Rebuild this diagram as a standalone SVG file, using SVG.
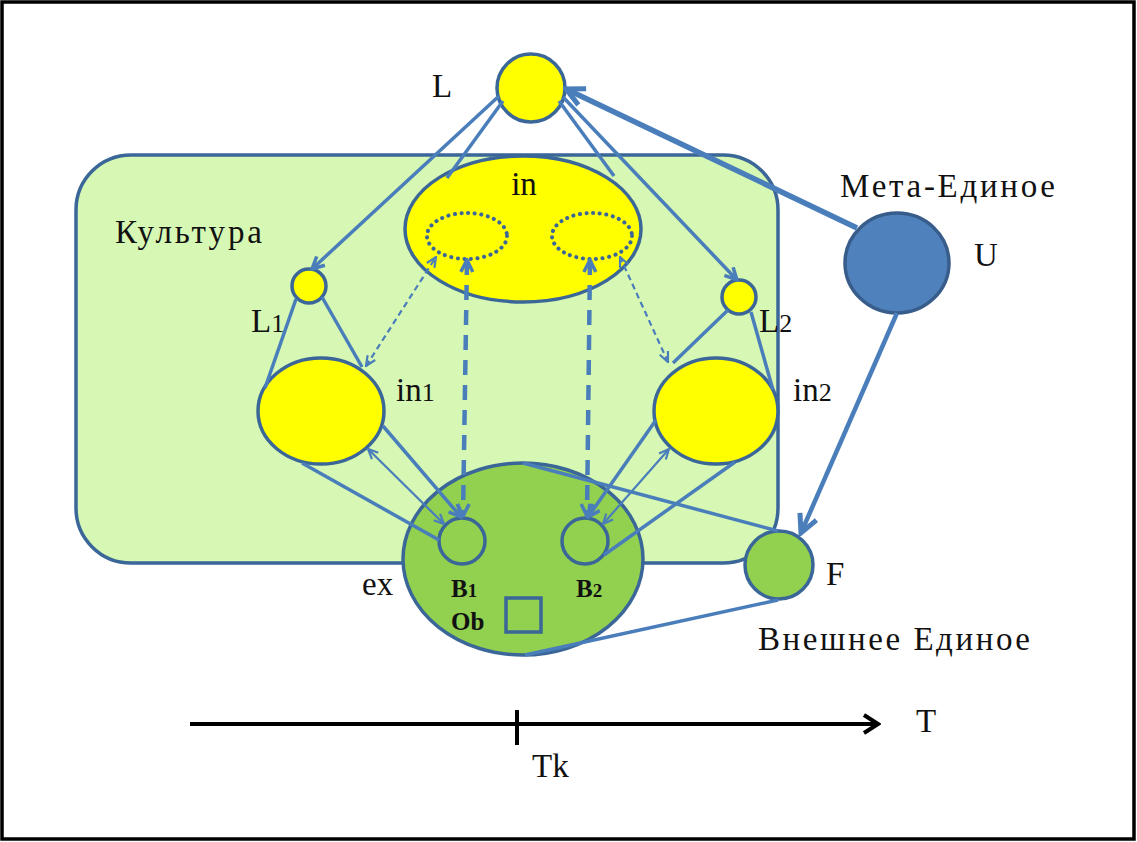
<svg xmlns="http://www.w3.org/2000/svg" width="1137" height="842" viewBox="0 0 1137 842">
<style>
.lbl{font-family:"Liberation Serif","DejaVu Serif",serif;font-size:33px;fill:#111}
.sm{font-family:"Liberation Serif","DejaVu Serif",serif;font-size:25px;fill:#111;font-weight:bold}
.node{stroke:#3a6698;stroke-width:3.5}
.yel{fill:#ffff00}
.grn{fill:#92d050}
.ln{stroke:#4a7ebb;stroke-width:3.5;fill:none}
.thin{stroke:#4a7ebb;stroke-width:2.2;fill:none}
.dot{fill:none;stroke:#3a6698;stroke-width:4;stroke-dasharray:0.1 6.5;stroke-linecap:round}
</style>
<defs>
<marker id="ar" viewBox="0 0 16 16" refX="14" refY="8" markerWidth="16" markerHeight="16" markerUnits="userSpaceOnUse" orient="auto-start-reverse">
<path d="M2,2 L14,8 L2,14" fill="none" stroke="#4a7ebb" stroke-width="3.5"/>
</marker>
<marker id="art" viewBox="0 0 12 12" refX="11" refY="6" markerWidth="12" markerHeight="12" markerUnits="userSpaceOnUse" orient="auto-start-reverse">
<path d="M1,1.5 L11,6 L1,10.5" fill="none" stroke="#4a7ebb" stroke-width="2.2"/>
</marker>
<marker id="arb" viewBox="0 0 24 24" refX="21" refY="12" markerWidth="24" markerHeight="24" markerUnits="userSpaceOnUse" orient="auto-start-reverse">
<path d="M3,3 L21,12 L3,21" fill="none" stroke="#4a7ebb" stroke-width="5"/>
</marker>
<marker id="ark" viewBox="0 0 20 24" refX="17" refY="12" markerWidth="20" markerHeight="24" markerUnits="userSpaceOnUse" orient="auto">
<path d="M3,3 L17,12 L3,21" fill="none" stroke="#000" stroke-width="4"/>
</marker>
</defs>
<rect x="0" y="0" width="1137" height="842" fill="#fff"/>
<rect x="2" y="2" width="1132" height="837" fill="none" stroke="#000" stroke-width="3.5"/>

<g id="culture">
<rect x="76" y="155" width="702" height="408" rx="55" ry="55" fill="#d7f8b4" stroke="#3a6698" stroke-width="3.5"/>
<text class="lbl" x="115" y="243" textLength="147">Культура</text>
</g>

<g id="node-L">
<circle class="node yel" cx="531" cy="88" r="34"/>
<text class="lbl" x="432" y="97">L</text>
</g>
<g id="node-in">
<ellipse class="node yel" cx="523" cy="229" rx="118" ry="73"/>
<ellipse class="dot" cx="467" cy="236" rx="40" ry="23"/>
<ellipse class="dot" cx="592" cy="236" rx="40" ry="23"/>
<text class="lbl" x="524" y="195" text-anchor="middle">in</text>
</g>
<g id="node-L1">
<circle class="node yel" cx="309" cy="286" r="17"/>
<text class="lbl" x="251" y="332">L<tspan font-size="26">1</tspan></text>
</g>
<g id="node-L2">
<circle class="node yel" cx="739" cy="297" r="17"/>
<text class="lbl" x="759" y="332">L<tspan font-size="26">2</tspan></text>
</g>
<g id="node-in1">
<ellipse class="node yel" cx="321" cy="411" rx="63" ry="53"/>
<text class="lbl" x="396" y="401">in<tspan font-size="26">1</tspan></text>
</g>
<g id="node-in2">
<ellipse class="node yel" cx="716" cy="411" rx="62" ry="53"/>
<text class="lbl" x="793" y="401">in<tspan font-size="26">2</tspan></text>
</g>
<g id="node-ex">
<ellipse class="node grn" cx="523" cy="559" rx="120" ry="96"/>
<text class="lbl" x="362" y="595">ex</text>
<text class="sm" x="451" y="597">B<tspan font-size="19">1</tspan></text>
<text class="sm" x="576" y="597">B<tspan font-size="19">2</tspan></text>
<text class="sm" x="451" y="630">Ob</text>
<rect x="506" y="598" width="35" height="34" fill="none" stroke="#3a6698" stroke-width="3.5"/>
</g>
<g id="node-B1">
<circle class="node grn" cx="462" cy="541" r="23"/>
</g>
<g id="node-B2">
<circle class="node grn" cx="585" cy="541" r="23"/>
</g>
<g id="node-U">
<ellipse cx="897" cy="263" rx="52" ry="50" fill="#4f81bd" stroke="#385d8a" stroke-width="3.5"/>
<text class="lbl" x="840" y="197" textLength="215">Мета-Единое</text>
<text class="lbl" x="974" y="266">U</text>
</g>
<g id="node-F">
<circle class="node grn" cx="779" cy="565" r="34"/>
<text class="lbl" x="826" y="585">F</text>
<text class="lbl" x="758" y="650" textLength="272">Внешнее Единое</text>
</g>

<g id="connectors">
<line class="ln" x1="499" y1="96" x2="312" y2="269" marker-end="url(#ar)"/>
<line class="ln" x1="503" y1="101" x2="447" y2="178"/>
<line class="ln" x1="559" y1="101" x2="614" y2="176"/>
<line class="ln" x1="563" y1="97" x2="737" y2="280" marker-end="url(#ar)"/>
<line x1="857" y1="228" x2="566" y2="89" stroke="#4a7ebb" stroke-width="5.5" marker-end="url(#arb)"/>
<line x1="897" y1="313" x2="801" y2="533" stroke="#4a7ebb" stroke-width="4.5" marker-end="url(#arb)"/>
<line class="ln" x1="296" y1="299" x2="265" y2="388"/>
<line class="ln" x1="322" y1="297" x2="362" y2="367"/>
<line class="ln" x1="728" y1="310" x2="673" y2="363"/>
<line class="ln" x1="751" y1="312" x2="773" y2="390"/>
<line class="ln" x1="383" y1="426" x2="461" y2="517" marker-end="url(#ar)"/>
<line class="ln" x1="656" y1="420" x2="588" y2="517" marker-end="url(#ar)"/>
<line class="ln" x1="302" y1="463" x2="439" y2="540"/>
<line class="ln" x1="735" y1="462" x2="604" y2="555"/>
<line class="thin" x1="368" y1="449" x2="444" y2="524" marker-start="url(#art)" marker-end="url(#art)"/>
<line class="thin" x1="669" y1="449" x2="603" y2="524" marker-start="url(#art)" marker-end="url(#art)"/>
<line class="thin" stroke-dasharray="6 4" x1="366" y1="366" x2="436" y2="257" marker-start="url(#art)" marker-end="url(#art)"/>
<line class="thin" stroke-dasharray="6 4" x1="668" y1="362" x2="620" y2="257" marker-start="url(#art)" marker-end="url(#art)"/>
<line stroke="#4a7ebb" stroke-width="4.5" stroke-dasharray="15 10" x1="467" y1="260" x2="463" y2="516" marker-start="url(#ar)" marker-end="url(#ar)"/>
<line stroke="#4a7ebb" stroke-width="4.5" stroke-dasharray="15 10" x1="590" y1="260" x2="587" y2="516" marker-start="url(#ar)" marker-end="url(#ar)"/>
<line class="ln" x1="523" y1="463" x2="778" y2="531"/>
<line class="ln" x1="525" y1="655" x2="778" y2="600"/>
</g>

<g id="timeline">
<line x1="190" y1="724" x2="878" y2="724" stroke="#000" stroke-width="4" marker-end="url(#ark)"/>
<line x1="517" y1="710" x2="517" y2="745" stroke="#000" stroke-width="4"/>
<text class="lbl" x="916" y="732">T</text>
<text class="lbl" x="532" y="777">Tk</text>
</g>
</svg>
